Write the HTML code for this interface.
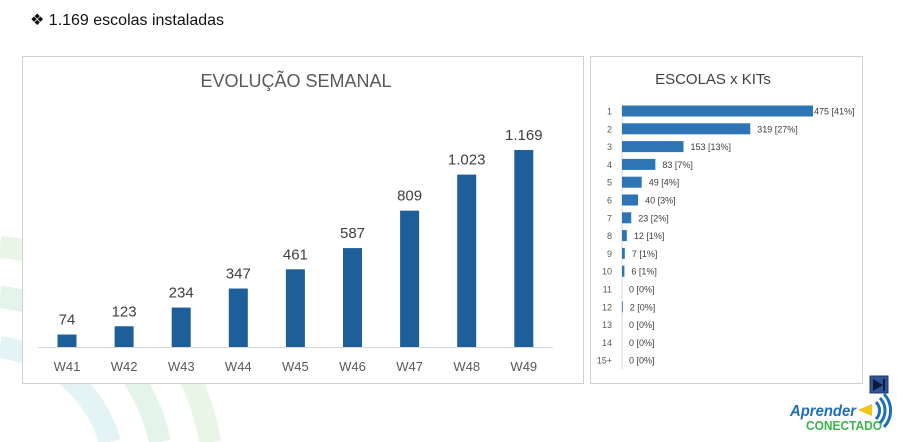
<!DOCTYPE html>
<html><head><meta charset="utf-8">
<style>
html,body{margin:0;padding:0;background:#fff;overflow:hidden;}
body{width:906px;height:442px;position:relative;overflow:hidden;font-family:"Liberation Sans",sans-serif;}
svg{display:block;}
svg text{font-family:"Liberation Sans",sans-serif;}
</style></head>
<body>
<svg id="s" width="906" height="442" viewBox="0 0 906 442" xmlns="http://www.w3.org/2000/svg">
  <g fill="none" stroke-width="22" opacity="0.6">
    <path d="M0 247 A233 233 0 0 1 210 442" stroke="#dcefd8"/>
    <path d="M0 297 A183 183 0 0 1 160 442" stroke="#d5eedf"/>
    <path d="M0 347 A133 133 0 0 1 110 442" stroke="#d3ecec"/>
  </g>
  <text x="30" y="25" font-size="16" fill="#111">❖ 1.169 escolas instaladas</text>
  <rect x="22.5" y="56.5" width="561" height="327" fill="#fff" stroke="#d0d0d0"/>
  <text x="296" y="87" font-size="18" fill="#595959" text-anchor="middle">EVOLUÇÃO SEMANAL</text>
  <line x1="38" y1="347.5" x2="553" y2="347.5" stroke="#d9d9d9"/>
  <g id="weekly"></g>
  <rect x="590.5" y="56.5" width="272" height="327" fill="#fff" stroke="#d0d0d0"/>
  <text x="713" y="84" font-size="15" fill="#404040" text-anchor="middle">ESCOLAS x KITs</text>
  <line x1="622" y1="104" x2="622" y2="369" stroke="#d9d9d9"/>
  <g id="kits"></g>
  <rect x="870" y="376" width="18" height="17" fill="#2f5597" stroke="#1f3864"/>
  <path d="M873 379 L883 385 L873 391 Z M883 379 h2 v12 h-2z" fill="#0b1a3a"/>
  <g>
    <text x="790" y="416" font-size="16" font-style="italic" font-weight="bold" fill="#1d6fb8" textLength="66" lengthAdjust="spacingAndGlyphs">Aprender</text>
    <text x="806" y="430" font-size="13" font-weight="bold" fill="#3cb44b" textLength="76" lengthAdjust="spacingAndGlyphs">CONECTADO</text>
    <path d="M858 410 L872 404 L872 416 Z" fill="#f2c318"/>
    <path d="M876 402 a12 12 0 0 1 0 17 M880 398 a18 18 0 0 1 0 25 M884 394 a24 24 0 0 1 0 33" fill="none" stroke="#1d6fb8" stroke-width="3"/>
  </g>
</svg>
<script>
const weeks=["W41","W42","W43","W44","W45","W46","W47","W48","W49"];
const weekValues=[74,123,234,347,461,587,809,1023,1169];
const weekLabels=["74","123","234","347","461","587","809","1.023","1.169"];
const kitCats=["1","2","3","4","5","6","7","8","9","10","11","12","13","14","15+"];
const kitValues=[475,319,153,83,49,40,23,12,7,6,0,2,0,0,0];
const kitPct=["41%","27%","13%","7%","4%","3%","2%","1%","1%","1%","0%","0%","0%","0%","0%"];
const NS="http://www.w3.org/2000/svg";
function mk(tag,attrs,parent){const e=document.createElementNS(NS,tag);for(const k in attrs)e.setAttribute(k,attrs[k]);parent.appendChild(e);return e;}
const wx=i=>67+i*57.1, wy=v=>347-v*197/1169;
const wg=document.getElementById('weekly');
weeks.forEach((w,i)=>{
  const r=mk('rect',{x:wx(i)-9.5,y:wy(weekValues[i]),width:19,height:347-wy(weekValues[i]),fill:'#1f5f99'},wg);
  
  
  const t=mk('text',{x:wx(i),y:wy(weekValues[i])-10,'font-size':15,fill:'#404040','text-anchor':'middle'},wg);t.textContent=weekLabels[i];
  
  
  const c=mk('text',{x:wx(i),y:371,'font-size':13,fill:'#595959','text-anchor':'middle'},wg);c.textContent=w;
  
  
});
const kx=v=>622+v*191/475, ky=i=>111+i*17.8;
const kg=document.getElementById('kits');
kitCats.forEach((k,i)=>{
  const r=mk('rect',{x:622,y:ky(i)-5.5,width:kx(kitValues[i])-622,height:11,fill:'#2e75b6'},kg);
  
  
  const c=mk('text',{x:612,y:ky(i)+3.5,'font-size':9,fill:'#595959','text-anchor':'end'},kg);c.textContent=k;
  
  
  const t=mk('text',{x:kx(kitValues[i])+(kitValues[i]>400?1:7),y:ky(i)+3.5,'font-size':9,fill:'#404040'},kg);
  t.textContent=kitValues[i]+" ["+kitPct[i]+"]";
  
  
});
</script>
</body></html>
